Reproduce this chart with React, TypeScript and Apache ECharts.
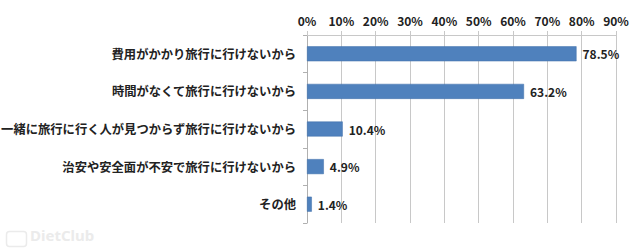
import React, { useEffect, useRef } from "react";
import * as echarts from "echarts";

const categories = [
  "費用がかかり旅行に行けないから",
  "時間がなくて旅行に行けないから",
  "一緒に旅行に行く人が見つからず旅行に行けないから",
  "治安や安全面が不安で旅行に行けないから",
  "その他",
];
const values = [78.5, 63.2, 10.4, 4.9, 1.4];
const tickMax = 90;
const tickStep = 10;

export default function App() {
  const ref = useRef<HTMLDivElement>(null);
  useEffect(() => {
    const chart = echarts.init(ref.current!, null, { renderer: "svg" });
    chart.setOption({
      animation: false,
      backgroundColor: "#ffffff",
      grid: {
        left: 307,
        right: 24,
        top: 35,
        bottom: 26,
        containLabel: false,
        outerBoundsMode: "none",
      },
      xAxis: {
        type: "value",
        position: "top",
        min: 0,
        max: tickMax,
        interval: tickStep,
        axisLabel: {
          formatter: (v: number) => v + "%",
          color: "#222",
          fontWeight: "bold",
          fontSize: 12,
          fontFamily: "Noto Sans CJK JP",
          margin: 9,
        },
        axisLine: { show: true, lineStyle: { color: "#c8c8c8" } },
        axisTick: { show: true, length: 4, lineStyle: { color: "#c8c8c8" } },
        splitLine: { show: true, lineStyle: { color: "#c8c8c8", width: 1 } },
      },
      yAxis: {
        type: "category",
        data: categories,
        inverse: true,
        axisLine: { show: true, lineStyle: { color: "#b0b0b0" } },
        axisTick: { show: true, length: 4, lineStyle: { color: "#b0b0b0" } },
        axisLabel: {
          color: "#222",
          fontWeight: "bold",
          fontSize: 12.3,
          fontFamily: "Noto Sans CJK JP",
          margin: 11,
          overflow: "none",
        },
      },
      series: [
        {
          type: "bar",
          data: values,
          barWidth: 15,
          itemStyle: { color: "#4F81BD", borderColor: "#3f6fa8", borderWidth: 0.5 },
          label: {
            show: true,
            position: "right",
            distance: 6,
            formatter: (p: any) => p.value.toFixed(1) + "%",
            color: "#222",
            fontWeight: "bold",
            fontSize: 12,
            fontFamily: "Noto Sans CJK JP",
          },
        },
      ],
      graphic: [
        {
          type: "text",
          left: 30,
          top: 227,
          style: {
            text: "DietClub",
            fill: "#ebebeb",
            fontSize: 15,
            fontWeight: "bold",
            fontFamily: "Noto Sans",
          },
        },
        {
          type: "rect",
          left: 4,
          top: 229,
          shape: { width: 20, height: 15, r: 3 },
          style: { fill: "none", stroke: "#ebebeb", lineWidth: 1.5 },
        },
      ],
    });
    return () => chart.dispose();
  }, []);
  return <div ref={ref} style={{ width: 640, height: 249, position: "absolute", left: 0, top: 0 }} />;
}
